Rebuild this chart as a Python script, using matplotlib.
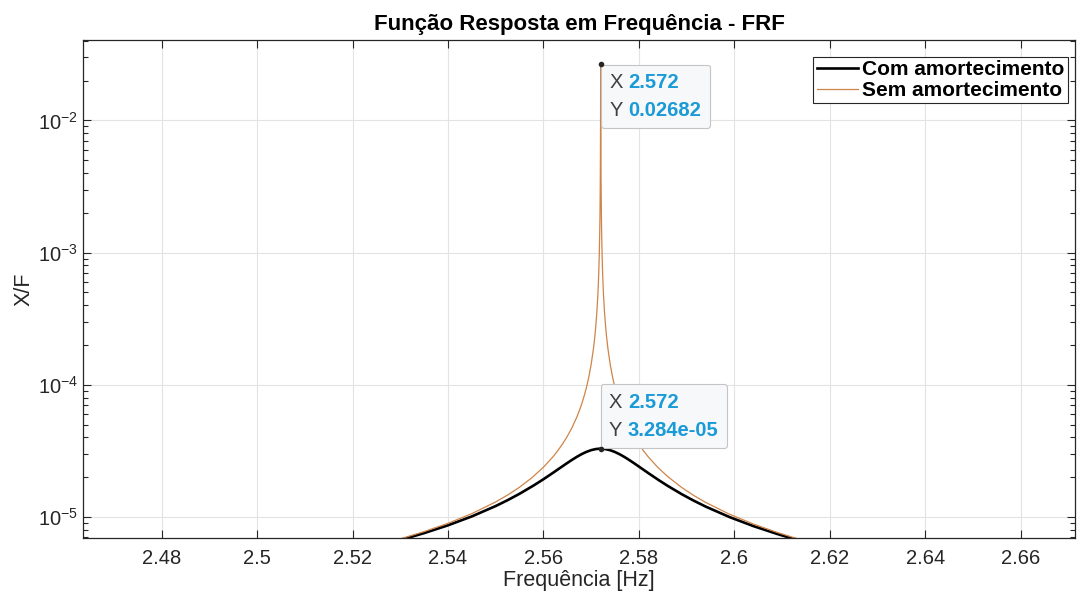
import numpy as np
import matplotlib.pyplot as plt
from matplotlib.ticker import LogLocator, LogFormatterMathtext, NullFormatter
from matplotlib.offsetbox import TextArea, HPacker, VPacker, AnnotationBbox

plt.rcParams['font.family'] = ['Liberation Sans', 'DejaVu Sans']
plt.rcParams['mathtext.default'] = 'regular'
plt.rcParams['axes.unicode_minus'] = False

# FRF (X/F against frequency in Hz)
freq_sem = [2.529, 2.531, 2.535, 2.540, 2.545, 2.550, 2.5525, 2.555, 2.5575, 2.560,
            2.562, 2.563, 2.564, 2.565, 2.566, 2.567, 2.5675, 2.568, 2.5685, 2.569,
            2.5695, 2.570, 2.5705, 2.5708, 2.571, 2.5712, 2.5714, 2.5715, 2.5716, 2.5717,
            2.5718, 2.57185, 2.5719, 2.57193, 2.57195, 2.57197, 2.57198, 2.572, 2.57202, 2.57203,
            2.57205, 2.57207, 2.5721, 2.57215, 2.5722, 2.5723, 2.5724, 2.5725, 2.5726, 2.5728,
            2.573, 2.5732, 2.5735, 2.574, 2.5745, 2.575, 2.5755, 2.576, 2.5765, 2.577,
            2.578, 2.579, 2.580, 2.581, 2.582, 2.584, 2.586, 2.589, 2.5915, 2.594,
            2.599, 2.604, 2.609, 2.612, 2.614]
xf_sem = [6.677e-6, 7.000e-6, 7.751e-6, 8.953e-6, 1.0601e-5, 1.2998e-5, 1.4657e-5, 1.6803e-5, 1.9691e-5, 2.378e-5,
          2.8528e-5, 3.169e-5, 3.5646e-5, 4.073e-5, 4.7509e-5, 5.700e-5, 6.3326e-5, 7.124e-5, 8.1406e-5, 9.497e-5,
          1.13942e-4, 1.4242e-4, 1.898e-4, 2.3727e-4, 2.847e-4, 3.559e-4, 4.745e-4, 5.694e-4, 7.118e-4, 9.491e-4,
          1.4236e-3, 1.8981e-3, 2.847e-3, 4.068e-3, 5.694e-3, 9.49e-3, 1.4236e-2, 0.02682, 1.4236e-2, 9.49e-3,
          5.694e-3, 4.068e-3, 2.847e-3, 1.8981e-3, 1.4236e-3, 9.491e-4, 7.118e-4, 5.694e-4, 4.745e-4, 3.559e-4,
          2.8467e-4, 2.3727e-4, 1.8977e-4, 1.4231e-4, 1.13836e-4, 9.485e-5, 8.1293e-5, 7.113e-5, 6.3217e-5, 5.689e-5,
          4.7399e-5, 4.062e-5, 3.5535e-5, 3.158e-5, 2.8417e-5, 2.367e-5, 2.0282e-5, 1.6693e-5, 1.4546e-5, 1.2887e-5,
          1.0490e-5, 8.843e-6, 7.640e-6, 7.063e-6, 6.724e-6]

freq_com = [2.529, 2.531, 2.535, 2.540, 2.545, 2.550, 2.5525, 2.555, 2.558, 2.560,
            2.562, 2.563, 2.564, 2.565, 2.566, 2.567, 2.568, 2.569, 2.570, 2.571,
            2.5715, 2.572, 2.5725, 2.573, 2.574, 2.575, 2.576, 2.577, 2.578, 2.579,
            2.580, 2.581, 2.582, 2.584, 2.586, 2.589, 2.5915, 2.594, 2.599, 2.604,
            2.609, 2.612, 2.614]
xf_com = [6.548e-6, 6.851e-6, 7.549e-6, 8.646e-6, 1.0099e-5, 1.2100e-5, 1.3401e-5, 1.4981e-5, 1.7352e-5, 1.929e-5,
          2.1575e-5, 2.2846e-5, 2.4197e-5, 2.5611e-5, 2.7062e-5, 2.8502e-5, 2.9868e-5, 3.1077e-5, 3.2032e-5, 3.2647e-5,
          3.2801e-5, 3.284e-5, 3.2788e-5, 3.2618e-5, 3.1984e-5, 3.1007e-5, 2.9783e-5, 2.8406e-5, 2.6956e-5, 2.5501e-5,
          2.4081e-5, 2.2727e-5, 2.1455e-5, 1.9174e-5, 1.7231e-5, 1.4861e-5, 1.3284e-5, 1.1983e-5, 9.983e-6, 8.531e-6,
          7.436e-6, 6.900e-6, 6.583e-6]

x_ticks = [2.48, 2.50, 2.52, 2.54, 2.56, 2.58, 2.60, 2.62, 2.64, 2.66]
tip_blue = '#1a9ad6'
ink = '#262626'


def datatip(ax, x, y, align, offset):
    rows = []
    for name, val in (("X", x), ("Y", y)):
        rows.append(HPacker(children=[
            TextArea(name, textprops=dict(color='#404040', fontsize=14.5)),
            TextArea(f"{val:.4g}", textprops=dict(color=tip_blue, fontsize=14.5, fontweight='bold')),
        ], pad=0, sep=4, align='baseline'))
    box = VPacker(children=rows, pad=0, sep=6.5, align='left')
    # box pad is a fraction of the default 10 pt size
    ab = AnnotationBbox(box, (x, y), xybox=offset, boxcoords='offset points',
                        box_alignment=align, frameon=True,
                        bboxprops=dict(boxstyle='round,pad=0.6,rounding_size=0.2',
                                       fc='#f7f8fa', ec='#c4c4c4', lw=0.8))
    ax.add_artist(ab)
    ax.plot([x], [y], 'o', ms=3, color=ink, zorder=5)


fig = plt.figure(figsize=(10.83, 6.0), dpi=100)
ax = fig.add_axes([0.0766, 0.1033, 0.9160, 0.8300])

ax.plot(freq_com, xf_com, color='black', lw=1.9, label='Com amortecimento')
ax.plot(freq_sem, xf_sem, color='#cf8448', lw=0.9, label='Sem amortecimento')

ax.set_yscale('log')
ax.set_xlim(2.4635, 2.6714)
ax.set_ylim(6.93e-6, 0.0406)
ax.set_xticks(x_ticks)
ax.set_xticklabels([f"{t:g}" for t in x_ticks])
ax.yaxis.set_major_locator(LogLocator(base=10, numticks=10))
ax.yaxis.set_major_formatter(LogFormatterMathtext())
ax.yaxis.set_minor_locator(LogLocator(base=10, subs=np.arange(2, 10), numticks=50))
ax.yaxis.set_minor_formatter(NullFormatter())

ax.grid(True, which='major', color='#e3e3e3', lw=0.8)
ax.set_axisbelow(True)
ax.tick_params(which='both', direction='in', top=True, right=True, colors=ink, labelsize=14.5)
ax.tick_params(which='major', length=6, width=0.8)
ax.tick_params(which='minor', length=3.5, width=0.8)
ax.tick_params(axis='x', pad=8)
for s in ax.spines.values():
    s.set_color(ink)
    s.set_linewidth(0.9)

ax.set_title('Função Resposta em Frequência - FRF', fontsize=16, fontweight='bold', color='black', pad=7)
ax.set_xlabel('Frequência [Hz]', fontsize=15.5, color=ink, labelpad=1)
ax.set_ylabel('X/F', fontsize=15.5, color=ink, labelpad=2)

leg = ax.legend(loc='upper right', bbox_to_anchor=(0.9929, 0.9659),
                prop=dict(weight='bold', size=15), fancybox=False, framealpha=1,
                edgecolor=ink, handlelength=2.0, handletextpad=0.2, borderpad=0.15,
                labelspacing=0.1, borderaxespad=0)
leg.get_frame().set_linewidth(0.8)

datatip(ax, freq_sem[xf_sem.index(max(xf_sem))], max(xf_sem), (0, 1), (6.5, -6.5))
datatip(ax, freq_com[xf_com.index(max(xf_com))], max(xf_com), (0, 0), (6, 6.5))

fig.savefig('out.png', dpi=100)
